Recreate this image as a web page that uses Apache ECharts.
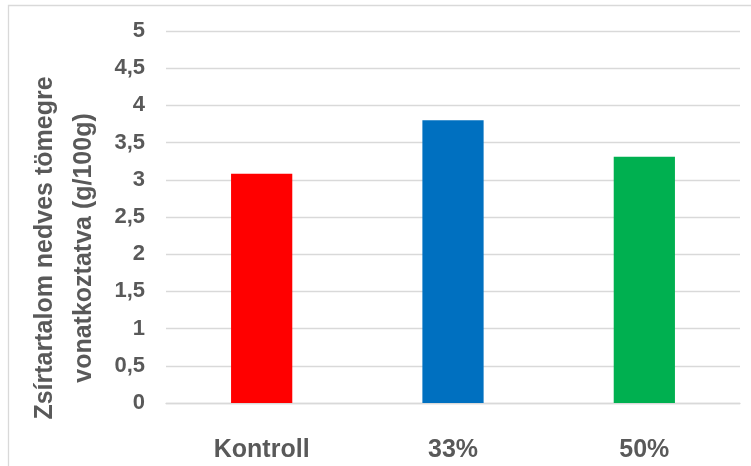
<!DOCTYPE html>
<html>
<head>
<meta charset="utf-8">
<script src="https://cdn.jsdelivr.net/npm/echarts@6/dist/echarts.min.js"></script>
<style>
html,body{margin:0;padding:0;background:#fff;}
#c{width:751px;height:466px;}
</style>
</head>
<body>
<div id="c"></div>
<script>
var categories = ['Kontroll', '33%', '50%'];
var values = [3.08, 3.80, 3.31];
var barColors = ['#FF0000', '#0070C0', '#00B050'];
var yTitle = ['Zsírtartalom nedves tömegre', 'vonatkoztatva (g/100g)'];

var chart = echarts.init(document.getElementById('c'), null, {renderer: 'canvas'});
chart.setOption({
  animation: false,
  backgroundColor: '#ffffff',
  grid: {left: 166, right: 11, top: 31, bottom: 63},
  xAxis: {
    type: 'category',
    data: categories,
    axisLine: {show: true, lineStyle: {color: '#d9d9d9', width: 1.3}},
    axisTick: {show: false},
    axisLabel: {
      color: '#595959', fontWeight: 'bold', fontSize: 25,
      fontFamily: "'Liberation Sans', Arial, sans-serif",
      margin: 47, verticalAlign: 'middle'
    }
  },
  yAxis: {
    type: 'value', min: 0, max: 5, interval: 0.5,
    axisLine: {show: false},
    axisTick: {show: false},
    splitLine: {lineStyle: {color: '#d9d9d9', width: 1.3}},
    axisLabel: {
      color: '#595959', fontWeight: 'bold', fontSize: 22,
      fontFamily: "'Liberation Sans', Arial, sans-serif",
      margin: 21,
      formatter: function (v) { return String(v).replace('.', ','); }
    }
  },
  series: [{
    type: 'bar',
    data: values.map(function (v, i) { return {value: v, itemStyle: {color: barColors[i]}}; }),
    barWidth: '32%'
  }],
  graphic: [
    {
      type: 'rect', silent: true, z: -1,
      shape: {x: 8.5, y: 5.5, width: 800, height: 500},
      style: {fill: 'none', stroke: '#d9d9d9', lineWidth: 1.3}
    },
    {
      type: 'text', silent: true,
      x: 65, y: 248, rotation: Math.PI / 2,
      style: {
        text: yTitle.join('\n'),
        fill: '#595959',
        font: "bold 25px 'Liberation Sans', Arial, sans-serif",
        align: 'center', verticalAlign: 'middle',
        lineHeight: 39
      }
    }
  ]
});
</script>
</body>
</html>
